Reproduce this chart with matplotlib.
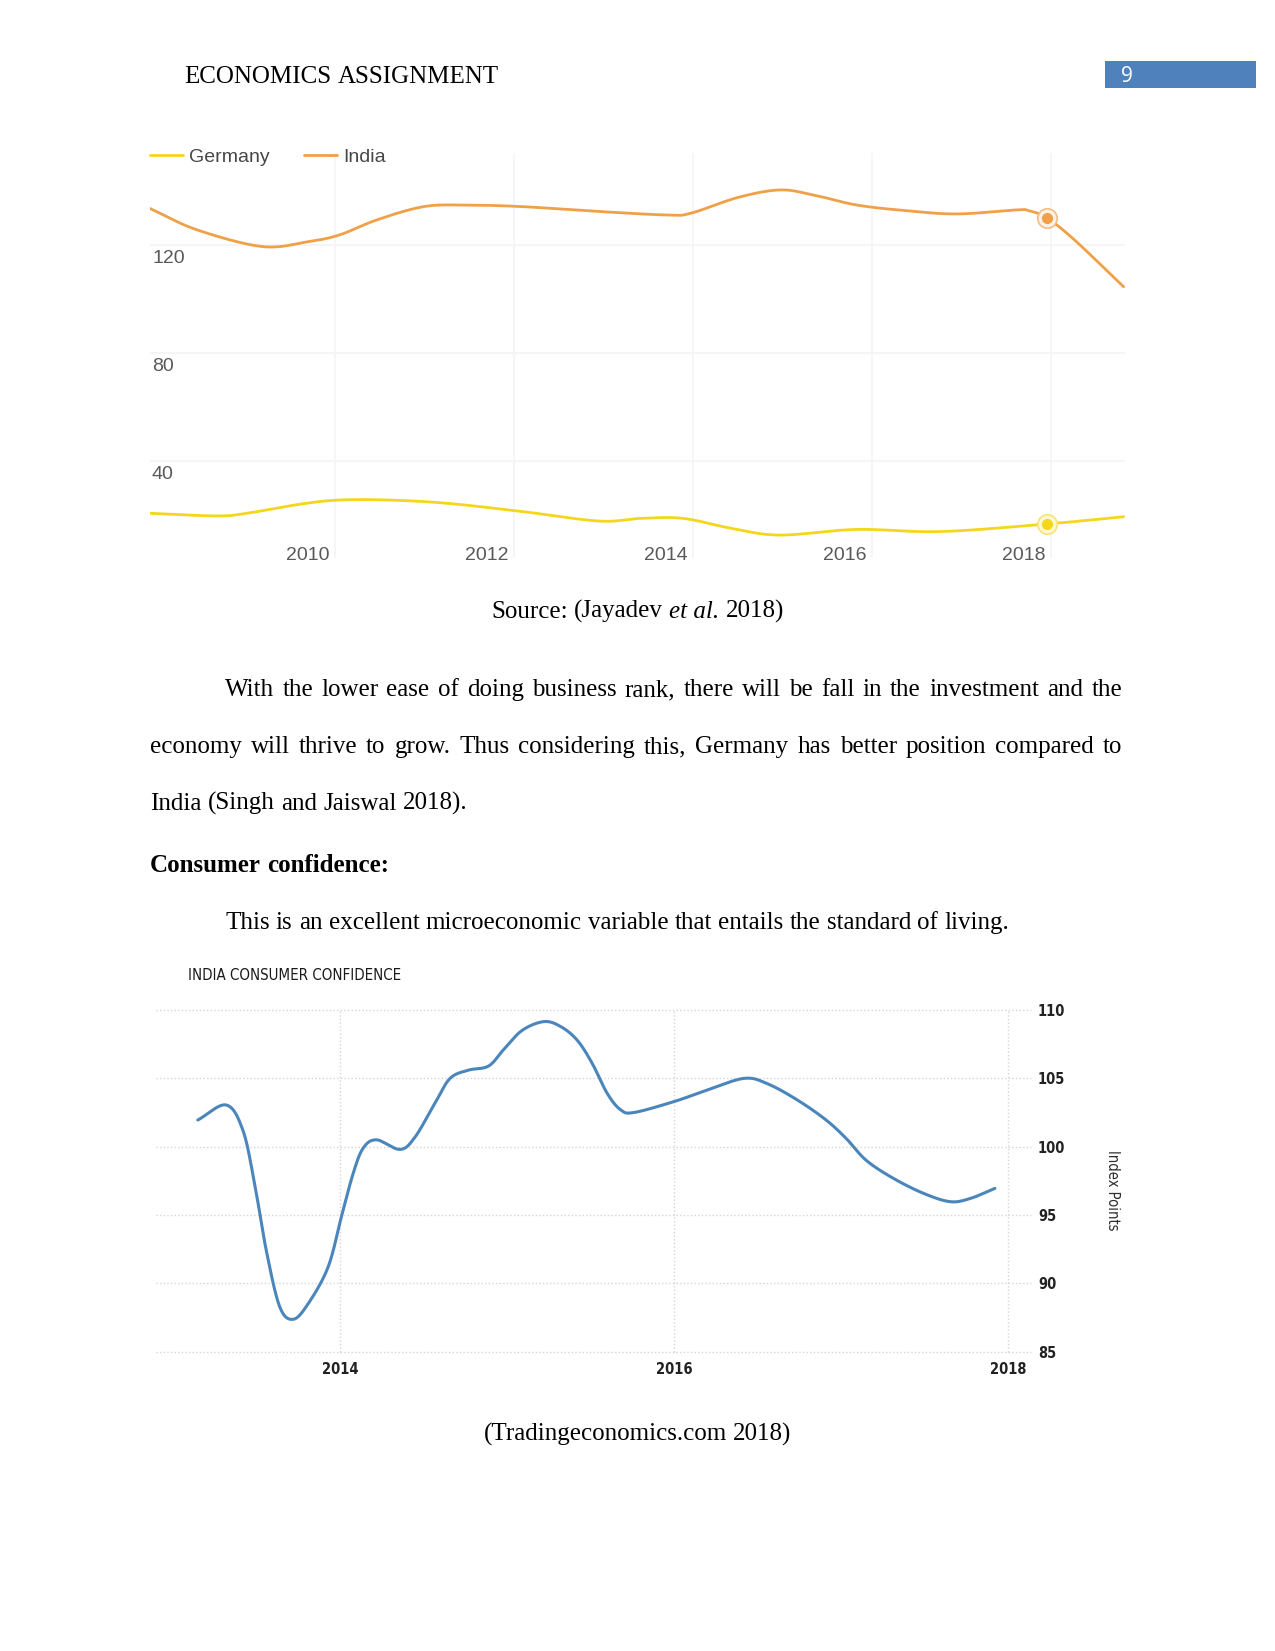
import numpy as np
import matplotlib
matplotlib.use("Agg")
import matplotlib.pyplot as plt
from matplotlib.patches import Rectangle
from matplotlib import font_manager

# ---------------- data ----------------
# Ease of doing business rank
india_years = [2007.93, 2008.46, 2009.19, 2009.70, 2010.05, 2010.47, 2010.99, 2011.46,
               2012.10, 2012.95, 2013.72, 2013.98, 2014.50, 2014.97, 2015.35, 2015.83,
               2016.39, 2016.95, 2017.62, 2017.75, 2017.95, 2018.26, 2018.81]
india_rank = [133.6, 125.6, 119.4, 121.2, 123.7, 129.3, 134.2, 134.8,
              134.2, 132.4, 131.1, 131.8, 137.6, 140.4, 138.5, 134.8,
              132.7, 131.5, 133.0, 132.7, 130.1, 121.9, 104.5]
germany_years = [2007.93, 2008.68, 2009.02, 2009.62, 2010.05, 2010.60, 2011.25, 2012.10,
                 2012.95, 2013.42, 2013.89, 2014.43, 2014.97, 2015.83, 2016.76, 2017.95, 2018.81]
germany_rank = [20.5, 19.5, 20.5, 23.9, 25.4, 25.4, 24.2, 21.1,
                17.6, 18.6, 18.6, 14.9, 12.4, 14.5, 13.7, 16.5, 19.2]
highlight_year = 2017.95
series_names = ["Germany", "India"]
rank_yticks = [40, 80, 120]
rank_xticks = [2010, 2012, 2014, 2016, 2018]

# India consumer confidence
cc_years = [2013.15, 2013.32, 2013.42, 2013.49, 2013.56, 2013.64, 2013.72, 2013.81, 2013.93,
            2014.01, 2014.08, 2014.14, 2014.22, 2014.36, 2014.45, 2014.57, 2014.66, 2014.77,
            2014.89, 2014.98, 2015.09, 2015.22, 2015.32, 2015.42, 2015.51, 2015.60, 2015.68,
            2015.76, 2016.00, 2016.20, 2016.42, 2016.56, 2016.74, 2016.91, 2017.03, 2017.15,
            2017.31, 2017.49, 2017.65, 2017.77, 2017.92]
cc_values = [101.95, 103.05, 101.2, 97.3, 92.4, 88.3, 87.37, 88.5, 91.2,
             94.9, 98.05, 99.9, 100.5, 99.8, 100.7, 103.2, 105.0, 105.6,
             105.9, 107.1, 108.5, 109.15, 108.8, 107.8, 106.1, 103.9, 102.7,
             102.5, 103.3, 104.15, 105.0, 104.6, 103.4, 101.95, 100.6, 99.0,
             97.7, 96.6, 95.98, 96.2, 96.95]
cc_yticks = [85, 90, 95, 100, 105, 110]
cc_xticks = [2014, 2016, 2018]

W, H = 1275, 1651
fig = plt.figure(figsize=(W / 100, H / 100), dpi=100)
fig.patch.set_facecolor("white")
PT = 0.72  # px -> pt

# pick a condensed sans if one is installed
_names = {f.name for f in font_manager.fontManager.ttflist}
_cond = [f for f in font_manager.fontManager.ttflist
         if f.name == "DejaVu Sans" and str(f.stretch) in ("condensed", "semi-condensed", "500", "600")]
if "Liberation Sans Narrow" in _names:
    NARROW = dict(family=["Liberation Sans Narrow", "DejaVu Sans"])
elif _cond:
    NARROW = dict(family=["DejaVu Sans"], stretch="condensed")
else:
    NARROW = dict(family=["DejaVu Sans"])


def ax_at(x0, y0, x1, y1):
    return fig.add_axes([x0 / W, 1 - y1 / H, (x1 - x0) / W, (y1 - y0) / H])


def smooth(xs, ys, n=24):
    P = np.column_stack([xs, ys]).astype(float)
    P = np.vstack([2 * P[0] - P[1], P, 2 * P[-1] - P[-2]])
    out = []
    t = np.linspace(0, 1, n, endpoint=False)[:, None]
    for i in range(1, len(P) - 2):
        p0, p1, p2, p3 = P[i - 1], P[i], P[i + 1], P[i + 2]
        seg = 0.5 * ((2 * p1) + (-p0 + p2) * t + (2 * p0 - 5 * p1 + 4 * p2 - p3) * t ** 2
                     + (-p0 + 3 * p1 - 3 * p2 + p3) * t ** 3)
        out.append(seg)
    out.append(P[-2][None, :])
    S = np.vstack(out)
    return S[:, 0], S[:, 1]


def clean(ax):
    for s in ax.spines.values():
        s.set_visible(False)
    ax.set_xticks([])
    ax.set_yticks([])
    ax.patch.set_alpha(0)


# ---------------- chart 1 ----------------
ax1 = ax_at(150, 153, 1125.4, 558)
clean(ax1)
ax1.set_xlim(2007.935, 2018.83)
ax1.set_ylim(3.9, 154.1)
for v in rank_yticks:
    ax1.axhline(v, color="#F3F3F3", lw=1.2, zorder=0)
for yr in rank_xticks:
    ax1.axvline(yr, color="#F5F5F5", lw=1.2, zorder=0)

c_ger = "#F4D71C"
c_ind = "#F0A047"
gx, gy = smooth(germany_years, germany_rank)
ix, iy = smooth(india_years, india_rank)
ax1.plot(gx, gy, color=c_ger, lw=2.0, solid_capstyle="round", zorder=3, label=series_names[0])
ax1.plot(ix, iy, color=c_ind, lw=2.0, solid_capstyle="round", zorder=3, label=series_names[1])

hi = india_years.index(highlight_year)
hg = germany_years.index(highlight_year)
ax1.plot([india_years[hi]], [india_rank[hi]], "o", ms=14, mfc="#FDF1E6", mec="#F2BD86", mew=1.2, zorder=4)
ax1.plot([india_years[hi]], [india_rank[hi]], "o", ms=7, mfc=c_ind, mec=c_ind, zorder=5)
ax1.plot([germany_years[hg]], [germany_rank[hg]], "o", ms=14, mfc="#FDF7D2", mec="#F7E27A", mew=1.2, zorder=4)
ax1.plot([germany_years[hg]], [germany_rank[hg]], "o", ms=7, mfc=c_ger, mec=c_ger, zorder=5)

tick_font = dict(family=["Liberation Sans", "DejaVu Sans"], size=14, color="#595959")
for yr in rank_xticks:
    ax1.annotate(str(yr), xy=(yr, 0), xycoords=("data", "axes fraction"),
                 xytext=(-27.6 * PT, 3 * PT), textcoords="offset points",
                 ha="center", va="center", **tick_font)
for v in rank_yticks:
    ax1.annotate(str(v), xy=(0, v), xycoords=("axes fraction", "data"),
                 xytext=(2 * PT, -14 * PT), textcoords="offset points",
                 ha="left", va="center", **tick_font)

leg = ax1.legend(loc="center left", bbox_to_anchor=(0.0, 0.99), ncol=2, frameon=False,
                 prop=dict(family=["Liberation Sans", "DejaVu Sans"], size=14),
                 handlelength=1.7, handletextpad=0.33, columnspacing=1.75,
                 borderpad=0, borderaxespad=0)
for t in leg.get_texts():
    t.set_color("#474747")

# ---------------- chart 2 ----------------
ax2 = ax_at(156, 1010, 1031, 1351.7)
for s in ax2.spines.values():
    s.set_visible(False)
ax2.set_xlim(2012.90, 2018.136)
ax2.set_ylim(85, 110)
dot = (0, (1, 1.6))
for v in cc_yticks:
    ax2.axhline(v, color="#D5D5D5", lw=1.0, ls=dot, clip_on=False, zorder=0)
for yr in cc_xticks:
    ax2.axvline(yr, color="#D5D5D5", lw=1.0, ls=dot, clip_on=False, zorder=0)
cx, cy = smooth(cc_years, cc_values)
ax2.plot(cx, cy, color="#4A86BC", lw=2.2, solid_capstyle="round", zorder=3, clip_on=False)

ax2.yaxis.tick_right()
ax2.set_yticks(cc_yticks)
ax2.set_yticklabels([str(v) for v in cc_yticks])
ax2.set_xticks(cc_xticks)
ax2.set_xticklabels([str(v) for v in cc_xticks])
ax2.tick_params(axis="both", length=0, labelsize=10.5, labelcolor="#222222")
ax2.tick_params(axis="y", pad=7 * PT)
ax2.tick_params(axis="x", pad=10 * PT)
for lab in ax2.get_xticklabels() + ax2.get_yticklabels():
    lab.set_family(NARROW["family"])
    if "stretch" in NARROW:
        lab.set_stretch(NARROW["stretch"])
    lab.set_fontweight("bold")
ax2.patch.set_alpha(0)

fig.text(1113 / W, 1 - 1190 / H, "Index Points", rotation=270, ha="center", va="center",
         size=10.5, color="#2E2E2E", **NARROW)
fig.text(188 / W, 1 - 975 / H, "INDIA CONSUMER CONFIDENCE", ha="left", va="center",
         size=10.8, color="#1A1A1A", **NARROW)

# ---------------- document text ----------------
renderer = fig.canvas.get_renderer()
SERIF = ["Liberation Serif", "DejaVu Serif"]
FS = 18


def draw_runs(runs, baseline, x0=None, x1=None, align="left", size=FS, color="black"):
    objs = []
    widths = []
    for txt, style, weight in runs:
        o = fig.text(0, (H - baseline) / H, txt, family=SERIF, size=size, style=style,
                     fontweight=weight, color=color, ha="left", va="baseline")
        objs.append(o)
        widths.append(o.get_window_extent(renderer).width)
    probe = fig.text(0, 0, "n n", family=SERIF, size=size)
    probe2 = fig.text(0, 0, "nn", family=SERIF, size=size)
    sp = probe.get_window_extent(renderer).width - probe2.get_window_extent(renderer).width
    probe.remove()
    probe2.remove()
    total = sum(widths) + sp * (len(objs) - 1)
    if align == "justify":
        gap = (x1 - x0 - sum(widths)) / max(len(objs) - 1, 1)
        x = x0
    elif align == "center":
        gap = sp
        x = x0 - total / 2
    else:
        gap = sp
        x = x0
    for o, w in zip(objs, widths):
        o.set_x(x / W)
        x += w + gap


def words(s, style="normal", weight="normal"):
    return [(w, style, weight) for w in s.split()]


draw_runs(words("ECONOMICS ASSIGNMENT"), 83, x0=184)
fig.patches.append(Rectangle((1105 / W, 1 - 88 / H), (1256 - 1105) / W, (88 - 61) / H,
                             transform=fig.transFigure, facecolor="#4F81BD", edgecolor="none"))
fig.text(1121 / W, 1 - 76 / H, "9", ha="left", va="center", color="white",
         family=["Open Sans", "DejaVu Sans"], size=15)

draw_runs(words("Source: (Jayadev") + [("et al.", "italic", "normal")] + words("2018)"),
          618, x0=637.5, align="center")
draw_runs(words("With the lower ease of doing business rank, there will be fall in the investment and the"),
          696, x0=225, x1=1122, align="justify")
draw_runs(words("economy will thrive to grow. Thus considering this, Germany has better position compared to"),
          753, x0=150, x1=1122, align="justify")
draw_runs(words("India (Singh and Jaiswal 2018)."), 810, x0=150)
draw_runs(words("Consumer confidence:", weight="bold"), 872, x0=150)
draw_runs(words("This is an excellent microeconomic variable that entails the standard of living."),
          929, x0=225)
draw_runs(words("(Tradingeconomics.com 2018)"), 1441, x0=637.5, align="center")

fig.savefig("out.png", dpi=100, facecolor="white")
